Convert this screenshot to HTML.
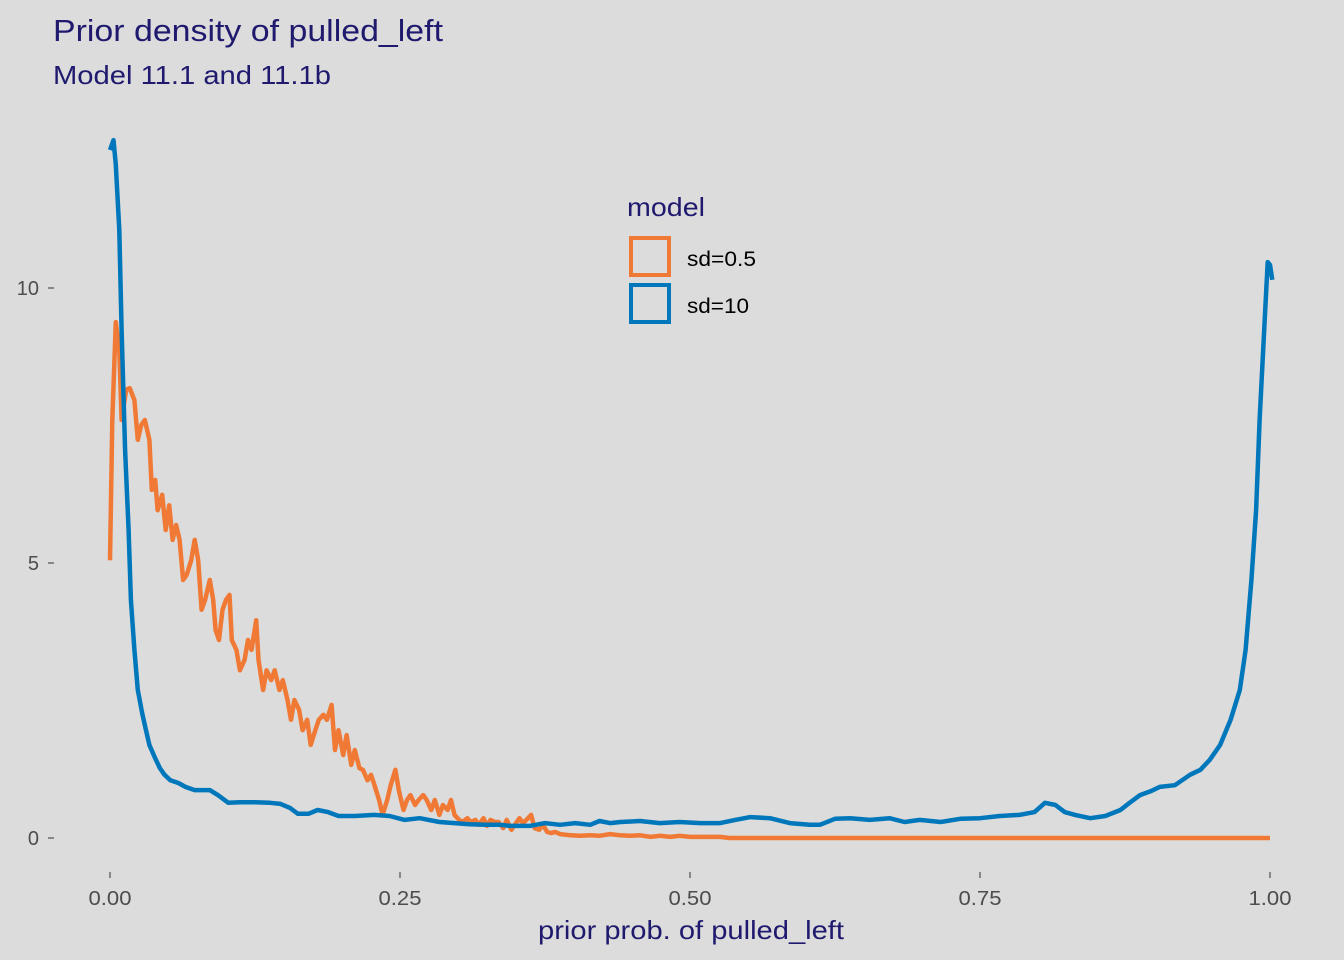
<!DOCTYPE html>
<html><head><meta charset="utf-8"><style>
html,body{margin:0;padding:0;background:#DCDCDC;}
svg{display:block;font-family:"Liberation Sans",Arial,sans-serif;}
</style></head><body>
<svg id="chart" width="1344" height="960">
<rect width="1344" height="960" fill="#DCDCDC"/>
<text x="53" y="41" font-size="31" textLength="390" lengthAdjust="spacingAndGlyphs" fill="#1F1A6E">Prior density of pulled_left</text>
<text x="53" y="84" font-size="26" textLength="278" lengthAdjust="spacingAndGlyphs" fill="#1F1A6E">Model 11.1 and 11.1b</text>
<text x="538" y="939" font-size="26" textLength="306" lengthAdjust="spacingAndGlyphs" fill="#1F1A6E">prior prob. of pulled_left</text>
<g id="xticks"></g>
<g id="yticks"></g>
<g id="series"></g>
<g>
<text x="627" y="216" font-size="26" textLength="78" lengthAdjust="spacingAndGlyphs" fill="#1F1A6E">model</text>
<rect x="631" y="238" width="38" height="37" fill="none" stroke="#F07A35" stroke-width="4"/>
<text x="687" y="266" font-size="21" textLength="69" lengthAdjust="spacingAndGlyphs" fill="#000">sd=0.5</text>
<rect x="631" y="285" width="38" height="37" fill="none" stroke="#0077BB" stroke-width="4"/>
<text x="687" y="313" font-size="21" textLength="62" lengthAdjust="spacingAndGlyphs" fill="#000">sd=10</text>
</g>
</svg>
<script>
const xTicks=[0,0.25,0.5,0.75,1];
const xTickLabels=["0.00","0.25","0.50","0.75","1.00"];
const yTicks=[0,5,10];
const yTickLabels=["0","5","10"];
const orangeX=[0,0.002,0.005,0.008,0.010,0.014,0.017,0.021,0.024,0.027,0.030,0.034,0.036,0.039,0.041,0.045,0.048,0.051,0.054,0.057,0.060,0.063,0.066,0.070,0.073,0.076,0.079,0.082,0.086,0.089,0.091,0.094,0.097,0.100,0.103,0.105,0.109,0.112,0.116,0.119,0.122,0.126,0.128,0.132,0.135,0.139,0.142,0.146,0.149,0.153,0.156,0.159,0.163,0.166,0.170,0.173,0.177,0.180,0.184,0.187,0.191,0.194,0.197,0.201,0.204,0.208,0.211,0.215,0.218,0.222,0.225,0.228,0.232,0.235,0.239,0.242,0.246,0.249,0.253,0.256,0.259,0.263,0.266,0.270,0.273,0.277,0.280,0.284,0.287,0.291,0.294,0.297,0.301,0.304,0.308,0.311,0.315,0.318,0.322,0.325,0.328,0.332,0.335,0.339,0.342,0.346,0.349,0.353,0.356,0.359,0.363,0.366,0.370,0.373,0.377,0.380,0.384,0.388,0.397,0.405,0.414,0.422,0.431,0.440,0.448,0.457,0.466,0.474,0.483,0.491,0.500,0.526,0.534,1];
const orangeY=[5.05,7.60,9.38,8.87,7.60,8.15,8.18,7.96,7.24,7.51,7.60,7.24,6.33,6.51,5.96,6.24,5.60,6.05,5.42,5.69,5.42,4.69,4.78,5.05,5.42,5.05,4.15,4.33,4.69,4.33,3.78,3.60,4.15,4.33,4.42,3.60,3.42,3.05,3.24,3.60,3.42,3.96,3.24,2.69,3.05,2.87,3.05,2.69,2.87,2.51,2.15,2.51,2.33,1.96,2.15,1.69,1.96,2.15,2.24,2.15,2.42,1.60,1.96,1.51,1.87,1.33,1.60,1.27,1.24,1.05,1.15,0.96,0.69,0.42,0.69,0.96,1.24,0.87,0.51,0.69,0.78,0.60,0.69,0.78,0.69,0.51,0.69,0.42,0.60,0.51,0.69,0.42,0.33,0.29,0.36,0.29,0.33,0.24,0.36,0.22,0.33,0.29,0.29,0.18,0.33,0.15,0.24,0.36,0.27,0.33,0.42,0.18,0.15,0.24,0.11,0.09,0.11,0.07,0.05,0.04,0.05,0.04,0.07,0.05,0.04,0.05,0.02,0.04,0.02,0.04,0.02,0.02,0,0];
const blueX=[0,0.003,0.005,0.008,0.010,0.013,0.016,0.018,0.021,0.024,0.028,0.031,0.034,0.039,0.043,0.047,0.052,0.059,0.065,0.073,0.086,0.093,0.102,0.112,0.125,0.138,0.147,0.155,0.162,0.171,0.179,0.188,0.197,0.211,0.228,0.241,0.254,0.267,0.284,0.297,0.310,0.323,0.336,0.345,0.362,0.375,0.388,0.401,0.414,0.422,0.431,0.440,0.457,0.474,0.491,0.509,0.526,0.539,0.552,0.569,0.586,0.603,0.612,0.625,0.638,0.655,0.672,0.685,0.698,0.716,0.733,0.750,0.767,0.784,0.797,0.806,0.815,0.823,0.832,0.845,0.858,0.871,0.879,0.888,0.897,0.905,0.918,0.931,0.940,0.948,0.957,0.966,0.974,0.979,0.984,0.988,0.991,0.995,0.998,1.000,1.002];
const blueY=[12.51,12.69,12.24,11.05,9.24,7.05,5.60,4.33,3.42,2.69,2.24,1.96,1.69,1.45,1.27,1.15,1.05,1.00,0.93,0.87,0.87,0.78,0.64,0.65,0.65,0.64,0.62,0.55,0.44,0.44,0.51,0.47,0.40,0.40,0.42,0.40,0.33,0.36,0.29,0.27,0.25,0.24,0.24,0.22,0.22,0.27,0.24,0.27,0.24,0.31,0.27,0.29,0.31,0.27,0.29,0.27,0.27,0.33,0.38,0.36,0.27,0.24,0.24,0.35,0.36,0.33,0.36,0.29,0.33,0.29,0.35,0.36,0.40,0.42,0.47,0.64,0.60,0.47,0.42,0.36,0.40,0.51,0.64,0.78,0.85,0.93,0.96,1.15,1.24,1.42,1.69,2.15,2.69,3.42,4.69,5.96,7.60,9.24,10.47,10.42,10.15];

const NS="http://www.w3.org/2000/svg";
const xs=v=>110+v*1160;
const ys=v=>838-v*55;
const xg=document.getElementById('xticks'),yg=document.getElementById('yticks'),sg=document.getElementById('series');
xTicks.forEach((t,i)=>{
  const l=document.createElementNS(NS,'line');
  l.setAttribute('x1',xs(t));l.setAttribute('x2',xs(t));l.setAttribute('y1',872);l.setAttribute('y2',878);
  l.setAttribute('stroke','#333');l.setAttribute('stroke-width','1');
  
  
  xg.appendChild(l);
  const tx=document.createElementNS(NS,'text');
  tx.setAttribute('x',xs(t)-21.5);tx.setAttribute('y',905);
  tx.setAttribute('font-size','20');tx.setAttribute('fill','#4D4D4D');
  tx.setAttribute('textLength','43');tx.setAttribute('lengthAdjust','spacingAndGlyphs');
  tx.textContent=xTickLabels[i];
  
  
  xg.appendChild(tx);
});
yTicks.forEach((t,i)=>{
  const l=document.createElementNS(NS,'line');
  l.setAttribute('x1',48);l.setAttribute('x2',54);l.setAttribute('y1',ys(t));l.setAttribute('y2',ys(t));
  l.setAttribute('stroke','#333');l.setAttribute('stroke-width','1');
  
  
  yg.appendChild(l);
  const tx=document.createElementNS(NS,'text');
  tx.setAttribute('x',39);tx.setAttribute('y',ys(t)+7);tx.setAttribute('text-anchor','end');
  tx.setAttribute('font-size','20');tx.setAttribute('fill','#4D4D4D');
  tx.textContent=yTickLabels[i];
  
  
  yg.appendChild(tx);
});
function draw(X,Y,color,name){
  const p=document.createElementNS(NS,'path');
  p.setAttribute('d',X.map((x,i)=>(i?'L':'M')+xs(x).toFixed(1)+','+ys(Y[i]).toFixed(1)).join(''));
  p.setAttribute('fill','none');p.setAttribute('stroke',color);p.setAttribute('stroke-width','4.5');
  p.setAttribute('stroke-linejoin','round');
  
  
  sg.appendChild(p);
}
draw(orangeX,orangeY,'#F07A35','density-line-sd05');
draw(blueX,blueY,'#0077BB','density-line-sd10');
</script>
</body></html>
